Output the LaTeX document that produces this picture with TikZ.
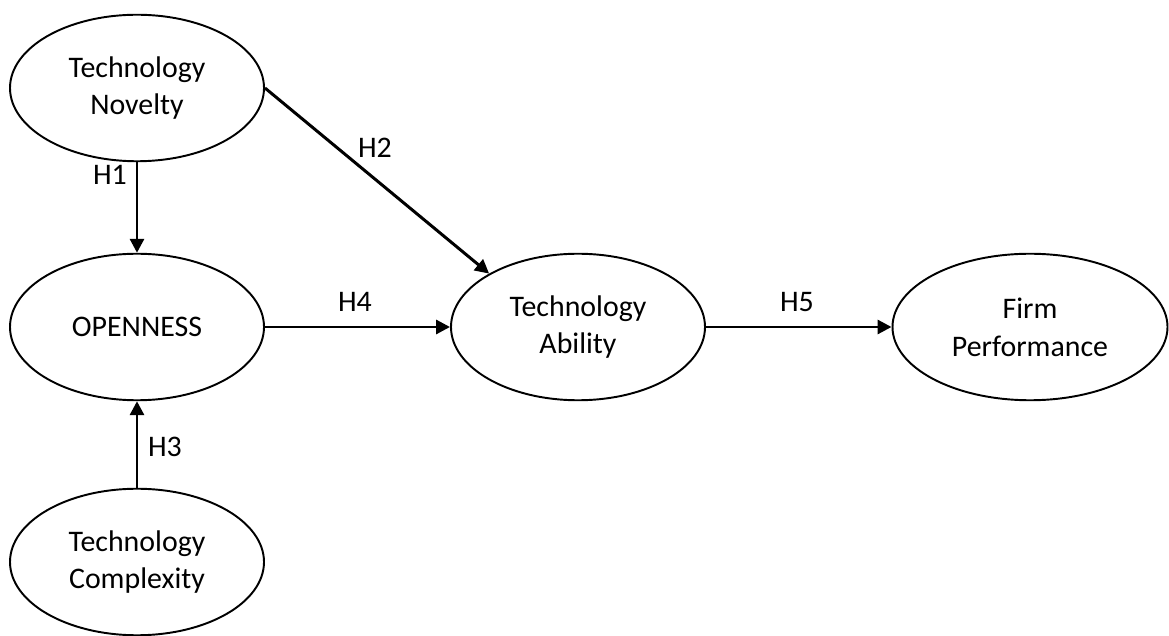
\documentclass[tikz,border=0pt]{standalone}
\usepackage{fontspec}
\setmainfont{Carlito}
\usetikzlibrary{arrows.meta,shapes.geometric}
\begin{document}
\begin{tikzpicture}[
    var/.style={draw, ellipse, line width=1.1pt, inner sep=0pt, minimum width=5.08cm, minimum height=2.93cm, align=center, font=\fontsize{17}{21.5}\selectfont},
    arr/.style={line width=1.7pt, -{Triangle[length=0.28cm,width=0.28cm]}},
    lbl/.style={font=\fontsize{17}{20}\selectfont}]
    \useasboundingbox (0, 0) rectangle (23.38, 12.7);
    \node[var] (nov) at (2.74, 10.94) {Technology\\Novelty};
    \node[var] (open) at (2.74, 6.16) {OPENNESS};
    \node[var] (comp) at (2.74, 1.46) {Technology\\Complexity};
    \node[var] (abil) at (11.56, 6.16) {Technology\\Ability};
    \node[var, minimum width=5.5cm] (firm) at (20.6, 6.16) {Firm\\Performance};
    \draw[arr] (nov) -- (open);
    \draw[arr] (nov.east) -- (abil.149);
    \draw[arr] (comp) -- (open);
    \draw[arr] (open) -- (abil);
    \draw[arr] (abil) -- (firm);
    \node[lbl] (h1) at (2.2, 9.2) {H1};
    \node[lbl] (h2) at (7.5, 9.74) {H2};
    \node[lbl] (h3) at (3.3, 3.76) {H3};
    \node[lbl] (h4) at (7.1, 6.66) {H4};
    \node[lbl] (h5) at (15.94, 6.66) {H5};
\end{tikzpicture}
\end{document}
